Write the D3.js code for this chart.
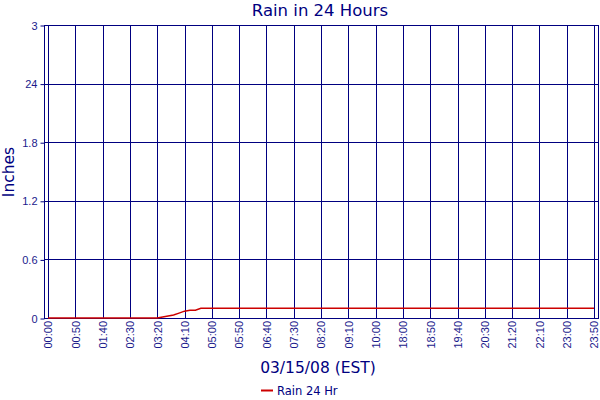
<!DOCTYPE html>
<html>
<head>
  <meta charset="utf-8">
  <style type="text/css">
    body { margin: 0; background: #fff; }
    svg { font-family: "DejaVu Sans", Verdana, sans-serif; }
    .title { font-size: 16.5px; fill: #000080; }
    .axis-title { font-size: 15.5px; fill: #000080; }
    .axis text { font-size: 11px; fill: #1a1a8c; }
    .axis path { display: none; }
    .axis line { stroke: #000080; }
    .grid line { stroke: #000080; stroke-width: 1px; }
    .legend text { font-size: 11.5px; fill: #000080; }
  </style>
</head>
<body>
  <script src="https://d3js.org/d3.v7.min.js"></script>
  <script>
    // tick labels on the time axis, one every 5 samples (10 minute samples)
    var timeLabels = ["00:00", "00:50", "01:40", "02:30", "03:20", "04:10", "05:00",
      "05:50", "06:40", "07:30", "08:20", "09:10", "10:00", "18:00", "18:50",
      "19:40", "20:30", "21:20", "22:10", "23:00", "23:50"];

    // rain total in inches, one value per sample
    var rain = [
      0, 0, 0, 0, 0, 0, 0, 0, 0, 0,
      0, 0, 0, 0, 0, 0, 0, 0, 0, 0,
      0, 0.01, 0.02, 0.03, 0.05, 0.07, 0.08, 0.08, 0.1, 0.1,
      0.1, 0.1, 0.1, 0.1, 0.1, 0.1, 0.1, 0.1, 0.1, 0.1,
      0.1, 0.1, 0.1, 0.1, 0.1, 0.1, 0.1, 0.1, 0.1, 0.1,
      0.1, 0.1, 0.1, 0.1, 0.1, 0.1, 0.1, 0.1, 0.1, 0.1,
      0.1, 0.1, 0.1, 0.1, 0.1, 0.1, 0.1, 0.1, 0.1, 0.1,
      0.1, 0.1, 0.1, 0.1, 0.1, 0.1, 0.1, 0.1, 0.1, 0.1,
      0.1, 0.1, 0.1, 0.1, 0.1, 0.1, 0.1, 0.1, 0.1, 0.1,
      0.1, 0.1, 0.1, 0.1, 0.1, 0.1, 0.1, 0.1, 0.1, 0.1,
      0.1
    ];

    var yTicks = [0, 0.6, 1.2, 1.8, 2.4, 3];
    var yLabels = ["0", "0.6", "1.2", "1.8", "24", "3"];

    var width = 600, height = 400;
    var plot = {left: 44, right: 598, top: 25, bottom: 318};

    var x = d3.scaleLinear()
      .domain([0, rain.length - 1])
      .range([48, 594]);

    var y = d3.scaleLinear()
      .domain([0, 3])
      .range([plot.bottom, plot.top]);

    var xTicks = timeLabels.map(function(d, i) { return i * 5; });

    var svg = d3.select("body").append("svg")
      .attr("width", width)
      .attr("height", height);

    // grid
    var grid = svg.append("g").attr("class", "grid");
    grid.selectAll(".v")
      .data(xTicks)
      .enter().append("line")
      .attr("x1", function(d) { return Math.round(x(d)) + 0.5; })
      .attr("x2", function(d) { return Math.round(x(d)) + 0.5; })
      .attr("y1", plot.top)
      .attr("y2", plot.bottom);
    grid.selectAll(".h")
      .data(yTicks)
      .enter().append("line")
      .attr("x1", plot.left)
      .attr("x2", plot.right)
      .attr("y1", function(d) { return Math.round(y(d)) + 0.5; })
      .attr("y2", function(d) { return Math.round(y(d)) + 0.5; });

    svg.append("rect")
      .attr("x", plot.left + 0.5)
      .attr("y", plot.top + 0.5)
      .attr("width", plot.right - plot.left)
      .attr("height", plot.bottom - plot.top)
      .attr("fill", "none")
      .attr("stroke", "#000080");

    // axes
    var yAxis = d3.axisLeft(y)
      .tickValues(yTicks)
      .tickFormat(function(d, i) { return yLabels[i]; })
      .tickSize(4)
      .tickPadding(3);

    svg.append("g")
      .attr("class", "y axis")
      .attr("transform", "translate(" + (plot.left + 0.5) + ",0.5)")
      .call(yAxis);

    var xAxis = d3.axisBottom(x)
      .tickValues(xTicks)
      .tickFormat(function(d, i) { return timeLabels[i]; })
      .tickSize(0);

    svg.append("g")
      .attr("class", "x axis")
      .attr("transform", "translate(0," + plot.bottom + ")")
      .call(xAxis)
      .selectAll("text")
      .attr("transform", "rotate(-90)")
      .attr("text-anchor", "end")
      .attr("x", -3)
      .attr("y", 0)
      .attr("dy", "0.35em");

    // rain line
    var line = d3.line()
      .x(function(d, i) { return x(i); })
      .y(function(d) { return y(d); });

    svg.append("path")
      .datum(rain)
      .attr("fill", "none")
      .attr("stroke", "#cc0000")
      .attr("stroke-width", 1.5)
      .attr("d", line);

    // titles
    svg.append("text")
      .attr("class", "title")
      .attr("x", 320)
      .attr("y", 16)
      .attr("text-anchor", "middle")
      .text("Rain in 24 Hours");

    svg.append("text")
      .attr("class", "axis-title")
      .attr("transform", "translate(14,172) rotate(-90)")
      .attr("text-anchor", "middle")
      .text("Inches");

    svg.append("text")
      .attr("class", "axis-title")
      .attr("x", 318)
      .attr("y", 373)
      .attr("text-anchor", "middle")
      .text("03/15/08 (EST)");

    // legend
    var legend = svg.append("g").attr("class", "legend");
    legend.append("line")
      .attr("x1", 261).attr("x2", 273)
      .attr("y1", 390.5).attr("y2", 390.5)
      .attr("stroke", "#cc0000")
      .attr("stroke-width", 2);
    legend.append("text")
      .attr("x", 277)
      .attr("y", 395)
      .text("Rain 24 Hr");
  </script>
</body>
</html>
